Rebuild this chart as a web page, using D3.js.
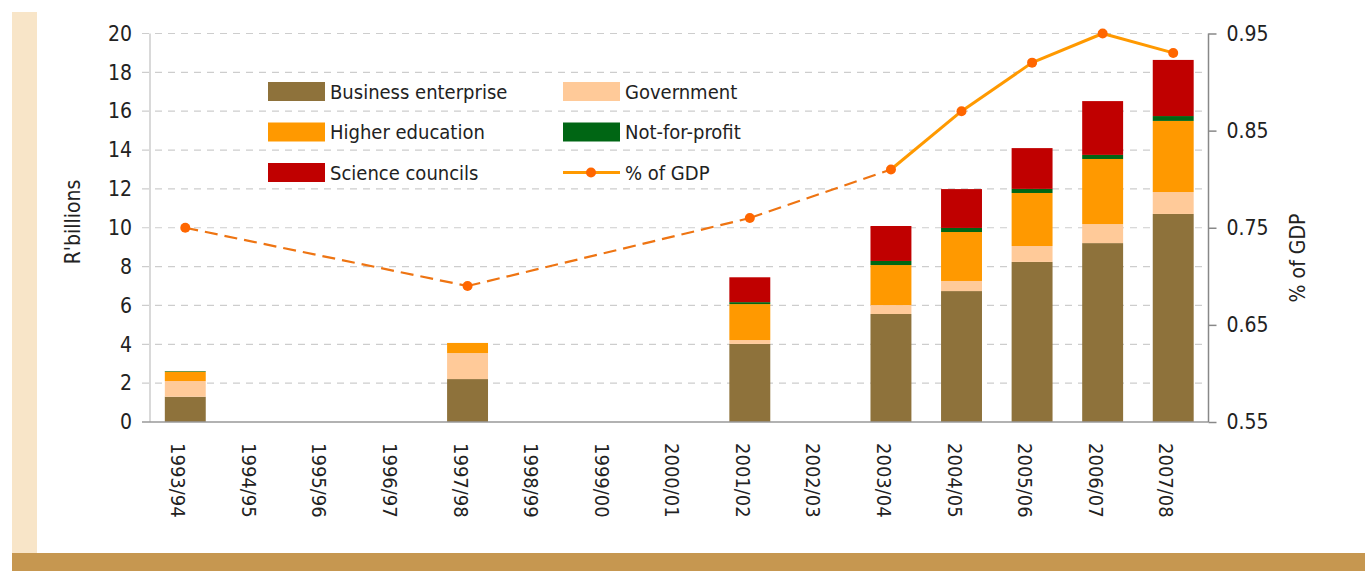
<!DOCTYPE html>
<html>
<head>
<meta charset="utf-8">
<script src="https://cdn.jsdelivr.net/npm/d3@7"></script>
<style>
  body { margin: 0; background: #fff; }
  svg text { font-family: "DejaVu Sans", sans-serif; font-stretch: condensed; fill: #222; }
</style>
</head>
<body>
<svg id="chart"></svg>
<script>
// data (R billions, % of GDP)
const years = ["1993/94","1994/95","1995/96","1996/97","1997/98","1998/99","1999/00","2000/01",
  "2001/02","2002/03","2003/04","2004/05","2005/06","2006/07","2007/08"];
const business      = [1.30, null, null, null, 2.21, null, null, null, 4.02, null, 5.56, 6.74, 8.24, 9.21, 10.71];
const government    = [0.81, null, null, null, 1.34, null, null, null, 0.20, null, 0.46, 0.52, 0.82, 0.98, 1.13];
const higherEd      = [0.48, null, null, null, 0.52, null, null, null, 1.85, null, 2.06, 2.52, 2.73, 3.35, 3.66];
const notForProfit  = [0.03, null, null, null, 0.00, null, null, null, 0.10, null, 0.21, 0.21, 0.21, 0.21, 0.25];
const sciCouncils   = [0.00, null, null, null, 0.00, null, null, null, 1.28, null, 1.80, 2.00, 2.10, 2.77, 2.89];
const gdpShare      = [0.75, null, null, null, 0.69, null, null, null, 0.76, null, 0.81, 0.87, 0.92, 0.95, 0.93];

const seriesNames = ["Business enterprise", "Government", "Higher education", "Not-for-profit", "Science councils"];
const seriesColors = ["#8E723B", "#FFCA99", "#FF9900", "#006614", "#C00000"];
const leftTicks = d3.range(0, 21, 2);
const rightTicks = [0.55, 0.65, 0.75, 0.85, 0.95];

const W = 1365, H = 571;
const margin = { top: 33.5, bottom: 149, left: 150, right: 156.5 };

const svg = d3.select("#chart").attr("width", W).attr("height", H);

// decorative bands
svg.append("rect").attr("x", 12).attr("y", 12).attr("width", 25).attr("height", 541).attr("fill", "#F8E5C8");
svg.append("rect").attr("x", 12).attr("y", 553).attr("width", W - 12).attr("height", 18).attr("fill", "#C69750");

const x = d3.scaleBand().domain(years).range([margin.left, W - margin.right]).paddingInner(0.42).paddingOuter(0.21);
const y = d3.scaleLinear().domain([0, 20]).range([H - margin.bottom, margin.top]);
const y2 = d3.scaleLinear().domain([0.55, 0.95]).range([H - margin.bottom, margin.top]);

// gridlines
svg.append("g").selectAll("line").data(leftTicks.filter(d => d > 0)).join("line")
  .attr("x1", margin.left - 8).attr("x2", W - margin.right - 6)
  .attr("y1", d => y(d)).attr("y2", d => y(d))
  .attr("stroke", "#CDCDCD").attr("stroke-width", 1.2).attr("stroke-dasharray", "7,6");

// stacked bars
const table = years.map((yr, i) => ({
  year: yr,
  "Business enterprise": business[i] || 0,
  "Government": government[i] || 0,
  "Higher education": higherEd[i] || 0,
  "Not-for-profit": notForProfit[i] || 0,
  "Science councils": sciCouncils[i] || 0
}));
const stack = d3.stack().keys(seriesNames)(table);

svg.append("g").selectAll("g").data(stack).join("g")
  .attr("fill", (d, i) => seriesColors[i])
  .selectAll("rect").data(d => d.filter(p => p[1] - p[0] > 0)).join("rect")
  .attr("x", d => x(d.data.year))
  .attr("width", x.bandwidth())
  .attr("y", d => y(d[1]))
  .attr("height", d => y(d[0]) - y(d[1]));

// left axis
const yAxis = svg.append("g").attr("transform", `translate(${margin.left},0)`)
  .call(d3.axisLeft(y).tickValues(leftTicks).tickSize(8).tickPadding(10).tickFormat(d3.format("d")));
yAxis.select(".domain").attr("stroke", "#CCCCCC").attr("stroke-width", 1.5).attr("d", `M0,${y(20)}V${y(0)}`);
yAxis.selectAll(".tick line").attr("stroke", "none");
yAxis.selectAll("text").style("font-size", "21px");

// bottom axis
const xAxis = svg.append("g").attr("transform", `translate(0,${y(0)})`)
  .call(d3.axisBottom(x).tickSize(0));
xAxis.select(".domain").attr("stroke", "#999").attr("stroke-width", 1.5).attr("d", `M${margin.left - 8},0H${W - margin.right}`);
xAxis.selectAll("text")
  .style("font-size", "20px")
  .attr("text-anchor", "start")
  .attr("dy", null)
  .attr("dominant-baseline", "central")
  .attr("transform", "translate(-7,21) rotate(90)")
  .attr("y", 0).attr("x", 0);

// right axis
const yAxis2 = svg.append("g").attr("transform", `translate(${W - margin.right},0)`)
  .call(d3.axisRight(y2).tickValues(rightTicks).tickSize(8).tickPadding(10).tickFormat(d3.format(".2f")));
yAxis2.select(".domain").attr("stroke", "#888").attr("stroke-width", 1.5).attr("d", `M0,${y2(0.95)}V${y2(0.55)}`);
yAxis2.selectAll(".tick line").attr("stroke", "#888").attr("stroke-width", 1.5);
yAxis2.selectAll("text").style("font-size", "21px");

// % of GDP line: dashed across gaps, solid between consecutive years
const pts = years.map((yr, i) => ({ year: yr, i: i, v: gdpShare[i] })).filter(d => d.v != null);
const cx = d => x(d.year) + x.bandwidth() / 2;
const line = d3.line().x(cx).y(d => y2(d.v));
const segs = d3.pairs(pts);
svg.append("g").selectAll("path").data(segs).join("path")
  .attr("d", d => line(d))
  .attr("fill", "none")
  .attr("stroke", d => d[1].i - d[0].i > 1 ? "#EE7412" : "#FF9900")
  .attr("stroke-width", d => d[1].i - d[0].i > 1 ? 2.2 : 3)
  .attr("stroke-dasharray", d => d[1].i - d[0].i > 1 ? "13,7" : null);
svg.append("g").selectAll("circle").data(pts).join("circle")
  .attr("cx", cx).attr("cy", d => y2(d.v)).attr("r", 5).attr("fill", "#FF6600");

// axis titles
svg.append("text").attr("transform", `translate(80,222) rotate(-90)`)
  .attr("text-anchor", "middle").style("font-size", "21px").text("R'billions");
svg.append("text").attr("transform", `translate(1305,258) rotate(-90)`)
  .attr("text-anchor", "middle").style("font-size", "21px").text("% of GDP");

// legend
const legendItems = [
  { name: "Business enterprise", col: 0, row: 0, color: seriesColors[0] },
  { name: "Government", col: 1, row: 0, color: seriesColors[1] },
  { name: "Higher education", col: 0, row: 1, color: seriesColors[2] },
  { name: "Not-for-profit", col: 1, row: 1, color: seriesColors[3] },
  { name: "Science councils", col: 0, row: 2, color: seriesColors[4] },
  { name: "% of GDP", col: 1, row: 2, line: true }
];
const leg = svg.append("g").selectAll("g").data(legendItems).join("g")
  .attr("transform", d => `translate(${268 + d.col * 295},${82 + d.row * 40.5})`);
leg.filter(d => !d.line).append("rect").attr("width", 57).attr("height", 19).attr("fill", d => d.color);
const lineLeg = leg.filter(d => d.line);
lineLeg.append("line").attr("x1", 0).attr("x2", 57).attr("y1", 9.5).attr("y2", 9.5)
  .attr("stroke", "#FF9900").attr("stroke-width", 3);
lineLeg.append("circle").attr("cx", 28).attr("cy", 9.5).attr("r", 5).attr("fill", "#FF6600");
leg.append("text").attr("x", 62).attr("y", 9.5).attr("dy", "0.35em")
  .style("font-size", "20px").text(d => d.name);
</script>
</body>
</html>
